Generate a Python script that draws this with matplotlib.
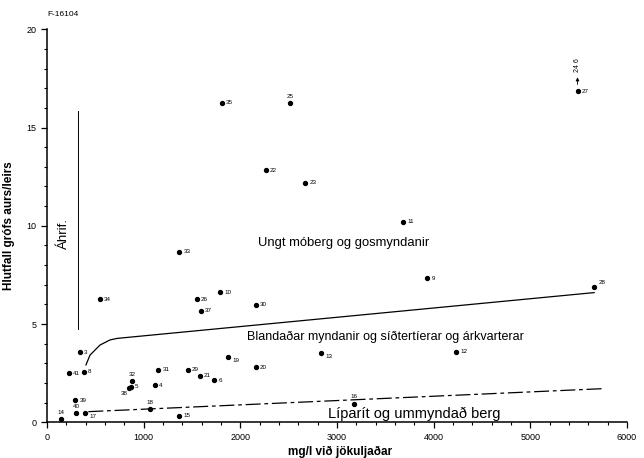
import matplotlib.pyplot as plt
from matplotlib.ticker import MultipleLocator

plt.rcParams['font.family'] = ['Liberation Sans', 'DejaVu Sans']

# sample number, sediment load (mg/l) and coarse/fine ratio
samples = ['35', '25', '22', '23', '27', '11', '33', '34', '26', '10', '37', '30',
           '9', '28', '3', '41', '8', '31', '29', '21', '6', '19', '20', '13', '12',
           '32', '5', '38', '4', '39', '40', '17', '14', '18', '15', '16']
load = [1806, 2516, 2262, 2671, 5488, 3685, 1368, 548, 1548, 1792, 1593, 2158,
        3933, 5660, 341, 228, 383, 1151, 1455, 1579, 1730, 1875, 2161, 2834, 4230,
        882, 869, 851, 1117, 293, 303, 396, 145, 1065, 1368, 3175]
ratio = [16.25, 16.25, 12.82, 12.19, 16.86, 10.21, 8.68, 6.27, 6.27, 6.63, 5.68, 5.97,
         7.33, 6.90, 3.56, 2.49, 2.58, 2.68, 2.68, 2.36, 2.14, 3.32, 2.80, 3.54, 3.59,
         2.09, 1.81, 1.75, 1.88, 1.12, 0.46, 0.47, 0.18, 0.68, 0.34, 0.95]

# boundary lines between rock groups
upper_x = [403, 445, 548, 651, 727, 5660]
upper_y = [2.92, 3.42, 3.93, 4.19, 4.27, 6.60]
lower_x = [427, 5747]
lower_y = [0.54, 1.71]
impact_x = [317, 317]
impact_y = [4.75, 15.84]

# label offsets in points (default: right of the dot)
above = {'25', '14', '40', '18', '32', '16'}
below_right = {'13', '19', '17'}

fig = plt.figure(figsize=(6.44, 4.58), dpi=100)
ax = fig.add_axes([0.073, 0.078, 0.9006, 0.858])

ax.scatter(load, ratio, s=8, color='black', zorder=3)
for s, x, y in zip(samples, load, ratio):
    if s in above:
        ax.annotate(s, (x, y), xytext=(0, 3), textcoords='offset points',
                    fontsize=4.5, ha='center', va='bottom')
    elif s in below_right:
        ax.annotate(s, (x, y), xytext=(3, -1), textcoords='offset points',
                    fontsize=4.5, ha='left', va='top')
    elif s == '38':
        ax.annotate(s, (x, y), xytext=(-1, -2), textcoords='offset points',
                    fontsize=4.5, ha='right', va='top')
    elif s == '28':
        ax.annotate(s, (x, y), xytext=(3, 1), textcoords='offset points',
                    fontsize=4.5, ha='left', va='bottom')
    else:
        ax.annotate(s, (x, y), xytext=(3, 0), textcoords='offset points',
                    fontsize=4.5, ha='left', va='center')

# sample 24 lies off the chart
ax.annotate('', xy=(5488, 17.7), xytext=(5488, 17.05),
            arrowprops=dict(arrowstyle='-|>', color='black', lw=0.6,
                            mutation_scale=5))
ax.text(5488, 17.85, '24 6', rotation=90, fontsize=5, ha='center', va='bottom')

ax.plot(upper_x, upper_y, color='black', lw=0.9)
ax.plot(lower_x, lower_y, color='black', lw=0.9, ls=(0, (12, 3, 3, 3)))
ax.plot(impact_x, impact_y, color='black', lw=0.7)

ax.text(176, 9.6, 'Áhrif.', rotation=90, fontsize=9.5, ha='center', va='center')
ax.text(2180, 9.1, 'Ungt móberg og gosmyndanir', fontsize=9.4, va='center')
ax.text(2070, 4.36, 'Blandaðar myndanir og síðtertíerar og árkvarterar',
        fontsize=9, va='center')
ax.text(2905, 0.45, 'Líparít og ummyndað berg', fontsize=10.5, va='center')

ax.set_xlim(0, 6000)
ax.set_ylim(0, 20)
ax.xaxis.set_major_locator(MultipleLocator(1000))
ax.xaxis.set_minor_locator(MultipleLocator(200))
ax.yaxis.set_major_locator(MultipleLocator(5))
ax.yaxis.set_minor_locator(MultipleLocator(1))
ax.tick_params(which='major', length=4, width=0.9, labelsize=6.5)
ax.tick_params(which='minor', length=2.5, width=0.8)
for side in ['top', 'right']:
    ax.spines[side].set_visible(False)
ax.spines['left'].set_linewidth(1.1)
ax.spines['bottom'].set_linewidth(1.1)

ax.set_xlabel('mg/l við jökuljaðar', fontsize=8.5, fontweight='bold', labelpad=1)
ax.xaxis.set_label_coords(0.505, -0.06)
ax.set_ylabel('Hlutfall grófs aurs/leirs', fontsize=8.5, fontweight='bold', labelpad=8)
fig.text(0.074, 0.965, 'F-16104', fontsize=6)

fig.savefig('out.png', dpi=100)
